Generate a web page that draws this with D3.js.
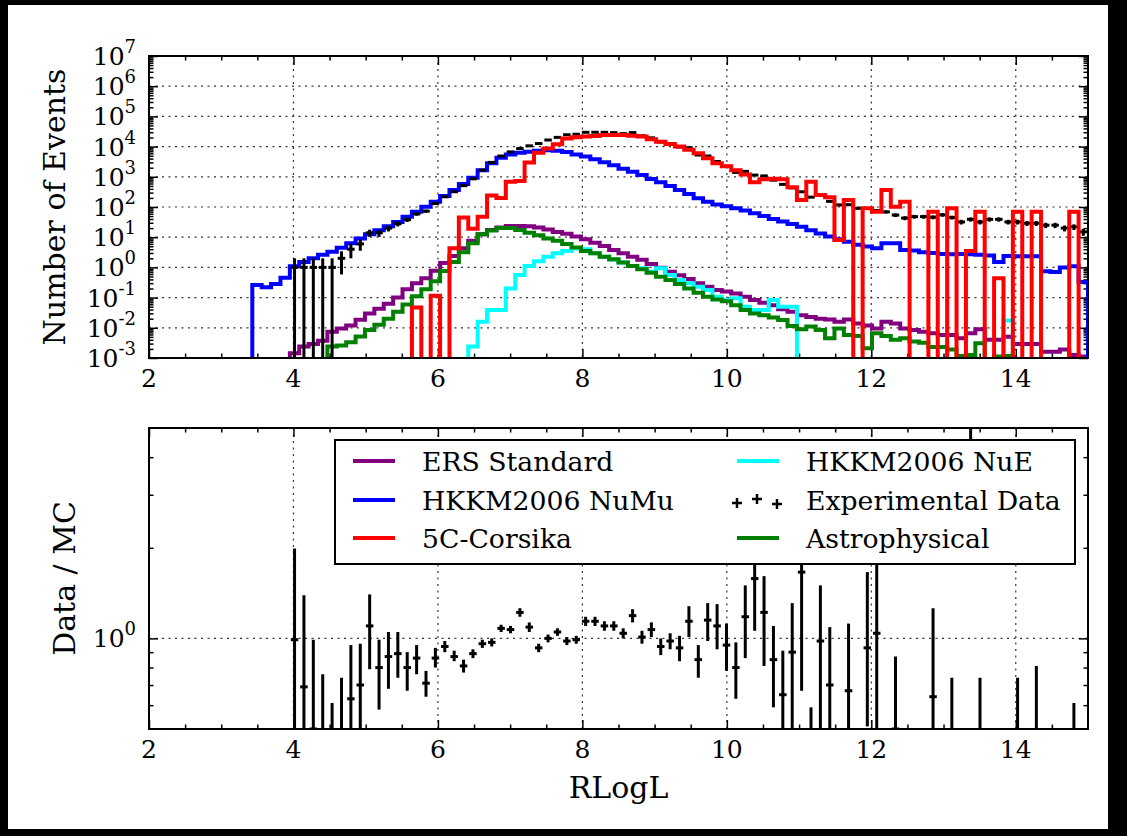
<!DOCTYPE html>
<html>
<head>
<meta charset="utf-8">
<script src="https://cdn.jsdelivr.net/npm/d3@7"></script>
<style>
  html, body { margin: 0; padding: 0; background: #000; }
  svg { display: block; }
  text { font-family: "DejaVu Serif", serif; fill: #000; }
</style>
</head>
<body>
<div id="chart"></div>
<script>
// RLogL binning: 100 bins from 2 to 15
const binStart = 2, binWidth = 0.13, nBins = 100;

// MC histograms (events per bin), bin 0 .. 99
const ersStandard = [
  0,0,0,0,0,0,0,0,0,0,
  0,0,0,0,0,0.00145,0.0024,0.0029,0.0037,0.0074,
  0.0095,0.012,0.0186,0.030,0.043,0.062,0.10,0.19,0.30,0.44,
  0.78,1.4,2.4,4.3,7.6,12.6,17.4,21,23.4,23.4,
  23,21,18,15,12.9,10.5,8.5,6.6,5.1,3.8,
  2.95,2.24,1.78,1.29,0.98,0.72,0.55,0.41,0.30,0.23,
  0.18,0.16,0.138,0.107,0.083,0.068,0.056,0.041,0.034,0.026,
  0.023,0.020,0.019,0.016,0.019,0.014,0.012,0.0095,0.016,0.014,
  0.0095,0.0085,0.0074,0.0066,0.0058,0.0058,0.0045,0.0066,0.0089,0.0040,
  0.0040,0.0051,0.0029,0.0029,0.0029,0.0016,0.0016,0.0019,0.00126,0.00112
];
const hkkmNuMu = [
  0,0,0,0,0,0,0,0,0,0,
  0,0.26,0.22,0.28,0.45,1.1,1.5,2.0,2.6,3.3,
  4.5,6.3,9.1,12.6,17,23,32,48,69,102,
  150,230,363,575,930,1660,2820,4270,5500,6300,
  6760,7240,7590,7240,6600,5500,4680,3800,3020,2400,
  1860,1480,1150,850,660,500,363,270,195,148,
  120,105,91,76,62,50,40,33,27.5,22,
  17,13.2,10.5,8.5,7.1,5.6,4.9,4.3,6.3,6.3,
  3.8,3.6,3.2,3.0,2.8,2.75,2.8,2.75,2.6,2.5,
  1.5,2.4,2.35,2.35,2.35,0.74,0.71,1.0,1.1,0.33
];
const corsika5C = [
  0,0,0,0,0,0,0,0,0,0,
  0,0,0,0,0,0,0,0,0,0,
  0,0,0,0,0,0,0,0,0.047,0,
  0.115,0,4.3,45,19,48,240,200,690,720,
  2950,6300,8700,12000,18600,20400,21400,22400,24000,24000,
  24000,23000,21400,17400,14500,12300,10000,7800,6000,4100,
  2800,2240,1660,1200,660,830,870,830,450,170,
  690,250,210,8.1,170,0,91,69,363,102,
  150,0,0,69,0,91,0,3.5,69,0,
  0.44,0,69,0,69,0,0,0,69,0
];
const hkkmNuE = [
  0,0,0,0,0,0,0,0,0,0,
  0,0,0,0,0,0,0,0,0,0,
  0,0,0,0,0,0,0,0,0,0,
  0,0,0,0,0.0024,0.0158,0.039,0.039,0.20,0.56,
  1.12,1.6,2.24,2.95,3.5,4.2,4.0,2.95,2.24,1.78,
  1.45,1.12,0.93,0.72,0.93,0.56,0.38,0.30,0.23,0.18,
  0.107,0.083,0.095,0.050,0.039,0.039,0.083,0.050,0.050,0,
  0,0,0,0,0,0,0,0,0,0,
  0,0,0,0,0,0,0,0,0,0,
  0,0.0174,0,0,0,0,0,0,0,0
];
const astrophysical = [
  0,0,0,0,0,0,0,0,0,0,
  0,0,0,0,0,0,0,0,0,0.0024,
  0.0026,0.0033,0.0052,0.0085,0.0126,0.020,0.034,0.059,0.11,0.19,
  0.35,0.76,1.5,3.2,6.3,12.6,16.6,20,20,17.4,
  14.1,11.7,9.1,7.6,5.9,4.6,3.5,2.95,2.24,1.86,
  1.45,1.12,0.87,0.66,0.49,0.38,0.28,0.20,0.145,0.107,
  0.087,0.076,0.056,0.039,0.030,0.026,0.022,0.018,0.0115,0.0089,
  0.011,0.0085,0.0045,0.0095,0.0058,0.0054,0.0021,0.0066,0.0054,0.0040,
  0.0045,0.0035,0.0032,0.0023,0.0023,0.0019,0.00117,0.00126,0.0031,0,
  0.00112,0.00117,0,0,0,0,0,0,0,0
];

// experimental data (counts per bin)
const expData = [
  0,0,0,0,0,0,0,0,0,0,
  0,0,0,0,0,1,1,1,1,1,
  2,4,6,14,14,20,28,38,59,73,
  130,218,320,508,857,1660,3000,4870,6670,8610,
  10600,12600,16500,20200,24700,25700,29700,29900,29700,29000,
  26900,29100,22800,19500,14300,12500,9640,9200,5270,4890,
  3210,2230,1400,1510,1140,1070,774,561,430,319,
  212,258,154,117,119,91,89,76,69,54,
  43,48,48,46,55,45,32,39,32,39,
  39,32,32,29,29,25,25,20,22,15
];

// data / MC with error band, null where nothing is drawn
const ratioVal = [
  null,null,null,null,null,null,null,null,null,null,
  null,null,null,null,null,0.99,0.69,0.50,0.38,0.30,
  0.37,0.63,0.70,1.10,0.80,0.87,0.89,0.80,0.86,0.71,
  0.86,0.94,0.87,0.81,0.89,0.96,0.97,1.08,1.07,1.22,
  1.09,0.93,1.00,1.05,0.98,0.99,1.14,1.14,1.10,1.10,
  1.04,1.19,1.01,1.07,0.94,0.98,0.93,1.14,0.85,1.15,
  1.10,0.95,0.80,1.18,1.58,1.22,0.85,0.65,0.90,1.66,
  0.30,0.98,0.70,null,0.67,null,0.93,1.04,null,0.50,
  null,null,null,0.64,null,0.37,null,7.0,0.37,null,
  null,null,0.37,null,0.40,null,null,null,0.30,null
];
const ratioLow = [
  null,null,null,null,null,null,null,null,null,null,
  null,null,null,null,null,0.05,0.05,0.05,0.05,0.05,
  0.05,0.32,0.44,0.79,0.58,0.68,0.74,0.67,0.76,0.64,
  0.80,0.90,0.84,0.77,0.86,0.93,0.94,1.05,1.04,1.18,
  1.05,0.90,0.97,1.02,0.95,0.96,1.10,1.10,1.06,1.06,
  1.00,1.13,0.96,1.01,0.88,0.92,0.84,1.01,0.74,0.98,
  0.92,0.78,0.63,0.86,1.06,0.81,0.59,0.30,0.40,0.67,
  0.10,0.40,0.30,null,0.25,null,0.51,0.30,null,0.10,
  null,null,null,0.10,null,0.05,null,3.5,0.05,null,
  null,null,0.05,null,0.05,null,null,null,0.05,null
];
const ratioHigh = [
  null,null,null,null,null,null,null,null,null,null,
  null,null,null,null,null,1.99,1.39,0.99,0.76,0.61,
  0.74,0.95,0.96,1.40,0.99,1.05,1.05,0.90,0.95,0.78,
  0.93,0.98,0.91,0.85,0.92,0.99,1.00,1.11,1.10,1.26,
  1.13,0.96,1.03,1.08,1.01,1.02,1.18,1.18,1.14,1.14,
  1.08,1.25,1.06,1.13,1.00,1.04,1.02,1.28,0.95,1.31,
  1.30,1.12,0.97,1.50,2.20,1.61,1.10,0.91,1.31,2.60,
  0.59,1.50,1.09,null,1.12,null,1.66,3.0,null,0.87,
  null,null,null,1.26,null,0.74,null,12,0.74,null,
  null,null,0.74,null,0.81,null,null,null,0.61,null
];

const xMajor = [2, 4, 6, 8, 10, 12, 14];
const topExponents = [-3, -2, -1, 0, 1, 2, 3, 4, 5, 6, 7];

const W = 1127, H = 836;
const left = 149, right = 1088;
const top1 = 56, bot1 = 358, top2 = 428, bot2 = 729;

const svg = d3.select("#chart").append("svg").attr("width", W).attr("height", H);
svg.append("rect").attr("width", W).attr("height", H).attr("fill", "#000");
svg.append("rect").attr("x", 8).attr("y", 5).attr("width", 1100).attr("height", 824).attr("fill", "#fff");

const x = d3.scaleLinear().domain([2, 15]).range([left, right]);
const yTop = d3.scaleLog().domain([1e-3, 1e7]).range([bot1, top1]);
const yBot = d3.scaleLog().domain([0.5, 5]).range([bot2, top2]);

const edges = d3.range(nBins + 1).map(i => binStart + i * binWidth);

const defs = svg.append("defs");
defs.append("clipPath").attr("id", "clipTop").append("rect")
  .attr("x", left).attr("y", top1).attr("width", right - left).attr("height", bot1 - top1);
defs.append("clipPath").attr("id", "clipBot").append("rect")
  .attr("x", left).attr("y", top2).attr("width", right - left).attr("height", bot2 - top2);

//grid + ticks for one panel
function frame(y, yt, yb, yMajor, yMinor) {
  const g = svg.append("g");
  g.selectAll(".gx").data(xMajor.filter(v => v > 2)).enter().append("line")
    .attr("x1", d => x(d)).attr("x2", d => x(d)).attr("y1", yt).attr("y2", yb)
    .attr("stroke", "#333").attr("stroke-width", 1.2).attr("stroke-dasharray", "2,4.5");
  g.selectAll(".gy").data(yMajor.filter(v => Math.abs(y(v) - yt) > 1 && Math.abs(y(v) - yb) > 1)).enter().append("line")
    .attr("x1", left).attr("x2", right).attr("y1", d => y(d)).attr("y2", d => y(d))
    .attr("stroke", "#333").attr("stroke-width", 1.2).attr("stroke-dasharray", "2,4.5");

  const xMinor = d3.range(2.5, 15, 0.5).filter(v => v % 2 !== 0);
  const ticks = [
    [d3.axisBottom(x).tickValues(xMajor).tickSize(-9), `translate(0,${yb})`],
    [d3.axisBottom(x).tickValues(xMinor).tickSize(-4.5), `translate(0,${yb})`],
    [d3.axisTop(x).tickValues(xMajor).tickSize(-9), `translate(0,${yt})`],
    [d3.axisTop(x).tickValues(xMinor).tickSize(-4.5), `translate(0,${yt})`],
    [d3.axisLeft(y).tickValues(yMajor).tickSize(-9), `translate(${left},0)`],
    [d3.axisLeft(y).tickValues(yMinor).tickSize(-4.5), `translate(${left},0)`],
    [d3.axisRight(y).tickValues(yMajor).tickSize(-9), `translate(${right},0)`],
    [d3.axisRight(y).tickValues(yMinor).tickSize(-4.5), `translate(${right},0)`]
  ];
  ticks.forEach(([ax, tr]) => {
    g.append("g").attr("transform", tr)
      .call(ax.tickFormat("").tickSizeOuter(0))
      .call(s => s.select(".domain").remove())
      .call(s => s.selectAll("line").attr("stroke", "#000").attr("stroke-width", 1.5));
  });

  // x tick labels
  g.selectAll(".xl").data(xMajor).enter().append("text")
    .attr("x", d => x(d)).attr("y", yb + 29)
    .attr("text-anchor", "middle").attr("font-size", 25)
    .text(d => d);
  return g;
}

function spine(yt, yb) {
  svg.append("rect").attr("x", left).attr("y", yt)
    .attr("width", right - left).attr("height", yb - yt)
    .attr("fill", "none").attr("stroke", "#000").attr("stroke-width", 2);
}

function powLabel(g, ypos, e) {
  const t = g.append("text").attr("x", 136).attr("y", ypos + 9)
    .attr("text-anchor", "end").attr("font-size", 25);
  t.append("tspan").text("10");
  t.append("tspan").attr("dy", -12).attr("font-size", 18).text(e);
}

//top panel
const topMinor = [];
d3.range(-3, 7).forEach(k => d3.range(2, 10).forEach(m => topMinor.push(m * Math.pow(10, k))));
const gTop = frame(yTop, top1, bot1, topExponents.map(e => Math.pow(10, e)), topMinor);
topExponents.forEach(e => powLabel(gTop, yTop(Math.pow(10, e)), e));

function stepPath(values) {
  const floor = 1e-5;
  const pts = [[edges[0], floor]];
  values.forEach((v, i) => {
    const vv = v > 0 ? v : floor;
    pts.push([edges[i], vv], [edges[i + 1], vv]);
  });
  pts.push([edges[nBins], floor]);
  return d3.line().x(d => x(d[0])).y(d => yTop(d[1]))(pts);
}

const plotTop = svg.append("g").attr("clip-path", "url(#clipTop)");
const hists = [
  { values: ersStandard, color: "#800080" },
  { values: hkkmNuMu, color: "#0000ff" },
  { values: hkkmNuE, color: "#00ffff" },
  { values: astrophysical, color: "#008000" }
];
hists.forEach(h => {
  plotTop.append("path").attr("d", stepPath(h.values))
    .attr("fill", "none").attr("stroke", h.color).attr("stroke-width", 4)
    .attr("stroke-linejoin", "miter");
});

// data crosses
const dataPts = expData.map((d, i) => ({ d, i })).filter(p => p.d > 0);
const gData = plotTop.append("g").attr("stroke", "#000").attr("stroke-width", 3);
gData.selectAll(".h").data(dataPts).enter().append("line")
  .attr("x1", p => x(edges[p.i] + 0.1 * binWidth)).attr("x2", p => x(edges[p.i + 1] - 0.1 * binWidth))
  .attr("y1", p => yTop(p.d)).attr("y2", p => yTop(p.d));
gData.selectAll(".v").data(dataPts).enter().append("line")
  .attr("x1", p => x(edges[p.i] + binWidth / 2)).attr("x2", p => x(edges[p.i] + binWidth / 2))
  .attr("y1", p => yTop(Math.max(p.d - Math.sqrt(p.d), 1e-5)))
  .attr("y2", p => yTop(p.d + Math.sqrt(p.d)));

plotTop.append("path").attr("d", stepPath(corsika5C))
  .attr("fill", "none").attr("stroke", "#ff0000").attr("stroke-width", 4);

spine(top1, bot1);

svg.append("text").attr("transform", `translate(65,${(top1 + bot1) / 2}) rotate(-90)`)
  .attr("text-anchor", "middle").attr("font-size", 30).text("Number of Events");

//bottom panel
const gBot = frame(yBot, top2, bot2, [1], [0.6, 0.7, 0.8, 0.9, 2, 3, 4]);
powLabel(gBot, yBot(1), 0);

const plotBot = svg.append("g").attr("clip-path", "url(#clipBot)")
  .attr("stroke", "#000").attr("stroke-width", 3);
const ratioPts = ratioVal.map((r, i) => ({ r, i, lo: ratioLow[i], hi: ratioHigh[i] })).filter(p => p.r !== null);
plotBot.selectAll(".h").data(ratioPts).enter().append("line")
  .attr("x1", p => x(edges[p.i] + 0.1 * binWidth)).attr("x2", p => x(edges[p.i + 1] - 0.1 * binWidth))
  .attr("y1", p => yBot(p.r)).attr("y2", p => yBot(p.r));
plotBot.selectAll(".v").data(ratioPts).enter().append("line")
  .attr("x1", p => x(edges[p.i] + binWidth / 2)).attr("x2", p => x(edges[p.i] + binWidth / 2))
  .attr("y1", p => yBot(p.lo)).attr("y2", p => yBot(p.hi));

spine(top2, bot2);

svg.append("text").attr("transform", `translate(75,${(top2 + bot2) / 2}) rotate(-90)`)
  .attr("text-anchor", "middle").attr("font-size", 30).text("Data / MC");
svg.append("text").attr("x", (left + right) / 2).attr("y", 798)
  .attr("text-anchor", "middle").attr("font-size", 30).text("RLogL");

//legend
const legendItems = [
  { label: "ERS Standard", color: "#800080", col: 0, row: 0 },
  { label: "HKKM2006 NuMu", color: "#0000ff", col: 0, row: 1 },
  { label: "5C-Corsika", color: "#ff0000", col: 0, row: 2 },
  { label: "HKKM2006 NuE", color: "#00ffff", col: 1, row: 0 },
  { label: "Experimental Data", color: null, col: 1, row: 1 },
  { label: "Astrophysical", color: "#008000", col: 1, row: 2 }
];
const leg = svg.append("g");
leg.append("rect").attr("x", 335).attr("y", 440).attr("width", 740).attr("height", 124)
  .attr("fill", "#fff").attr("stroke", "#000").attr("stroke-width", 2);
const colX = [353, 737];
const rowY = [461, 500, 538];
legendItems.forEach(it => {
  const lx = colX[it.col], ly = rowY[it.row];
  if (it.color) {
    leg.append("line").attr("x1", lx).attr("x2", lx + 42).attr("y1", ly).attr("y2", ly)
      .attr("stroke", it.color).attr("stroke-width", 4);
  } else {
    [[0, 3], [20, -1], [40, 4]].forEach(([dx, dy]) => {
      leg.append("line").attr("x1", lx + dx - 5).attr("x2", lx + dx + 5).attr("y1", ly + dy).attr("y2", ly + dy)
        .attr("stroke", "#000").attr("stroke-width", 2.5);
      leg.append("line").attr("x1", lx + dx).attr("x2", lx + dx).attr("y1", ly + dy - 5).attr("y2", ly + dy + 5)
        .attr("stroke", "#000").attr("stroke-width", 2.5);
    });
  }
  leg.append("text").attr("x", lx + 69).attr("y", ly + 9.5).attr("font-size", 26.7).text(it.label);
});
</script>
</body>
</html>
